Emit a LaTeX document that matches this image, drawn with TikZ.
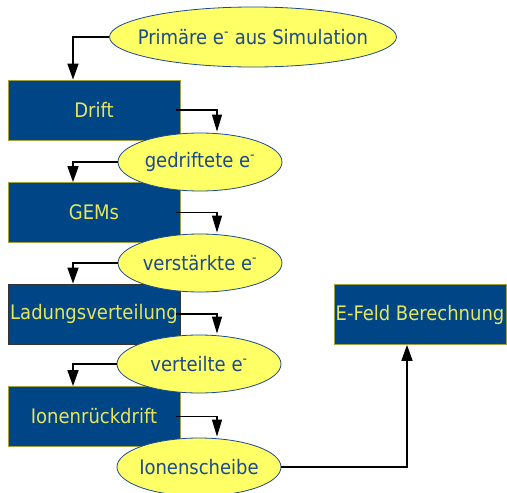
\documentclass[tikz,border=0pt]{standalone}
\usepackage{fontspec}
\setmainfont{DejaVu Sans Condensed}
\usetikzlibrary{shapes.geometric,arrows.meta}
\definecolor{boxblue}{HTML}{004586}
\definecolor{boxtext}{HTML}{E6E65C}
\definecolor{ellfill}{HTML}{FFFF66}
\definecolor{elltext}{HTML}{1C4A8C}
\definecolor{ellline}{HTML}{1C4A8C}
\tikzset{
  stepbox/.style={rectangle, fill=boxblue, draw=boxtext!70!black, line width=0.8pt,
    minimum width=172pt, minimum height=60pt, inner sep=0pt, text=boxtext,
    font=\fontsize{20pt}{24pt}\selectfont},
  dataell/.style={ellipse, fill=ellfill, draw=ellline, line width=0.8pt,
    minimum width=164pt, minimum height=58pt, inner sep=0pt, text=elltext,
    font=\fontsize{20pt}{24pt}\selectfont},
  flow/.style={draw=black, line width=1.6pt,
    -{Triangle[length=16pt,width=11pt]}},
  flowthin/.style={draw=black, line width=1.1pt,
    -{Triangle[length=17pt,width=10pt]}},
}
\newcommand{\elec}{e\textsuperscript{-}}
% zero-width label so the ellipse keeps its fixed size
\newcommand{\lbl}[1]{\makebox[0pt]{#1}}
\begin{document}
\begin{tikzpicture}[x=1pt,y=-1pt]
\useasboundingbox (0,0) rectangle (507,493);
% process boxes
\node[stepbox] (drift) at (94,110) {Drift};
\node[stepbox] (gems) at (94,212.5) {GEMs};
\node[stepbox, draw=black!80] (ladung) at (94,314) {Ladungsverteilung};
\node[stepbox] (ionen) at (94,416.5) {Ionenrückdrift};
\node[stepbox] (efeld) at (420,314.5) {E-Feld Berechnung};
% data ellipses
\node[dataell, minimum width=287pt, minimum height=60pt] (e1) at (253,37) {\lbl{Primäre \elec\ aus Simulation}};
\node[dataell] (e2) at (200,162) {\lbl{gedriftete \elec}};
\node[dataell] (e3) at (200,263) {\lbl{verstärkte \elec}};
\node[dataell] (e4) at (199,364) {\lbl{verteilte \elec}};
\node[dataell] (e5) at (199,467) {\lbl{Ionenscheibe}};
% connectors
\draw[flow] (e1.west) -| ([xshift=-21pt]drift.north);
\draw[flow] (e2.west) -| ([xshift=-21pt]gems.north);
\draw[flow] (e3.west) -| ([xshift=-21pt]ladung.north);
\draw[flow] (e4.west) -| ([xshift=-21pt]ionen.north);
\draw[flowthin] ([xshift=-4pt]drift.east) -| ([xshift=17pt,yshift=1pt]e2.north);
\draw[flowthin] ([xshift=-4pt]gems.east) -| ([xshift=17pt,yshift=1pt]e3.north);
\draw[flowthin] ([xshift=-4pt]ladung.east) -| ([xshift=18pt,yshift=1pt]e4.north);
\draw[flowthin] ([xshift=-4pt]ionen.east) -| ([xshift=18pt,yshift=1pt]e5.north);
\draw[flow] (e5.east) -| ([xshift=-13pt]efeld.south);
\end{tikzpicture}
\end{document}
